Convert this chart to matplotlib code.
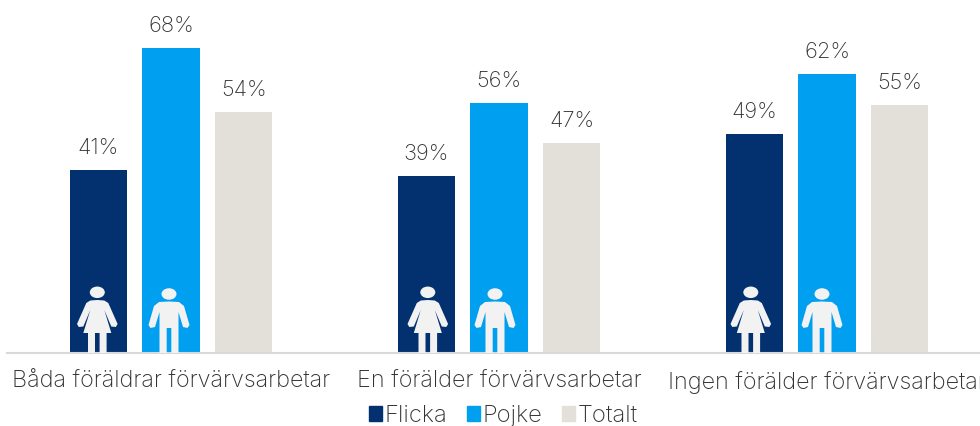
import matplotlib
matplotlib.use("Agg")
import matplotlib.pyplot as plt
import numpy as np
from matplotlib.patches import Ellipse, PathPatch, Patch
from matplotlib.path import Path
from matplotlib.transforms import Affine2D

plt.rcParams['font.family'] = ['Inter', 'DejaVu Sans']

categories = ["Båda föräldrar förvärvsarbetar", "En förälder förvärvsarbetar", "Ingen förälder förvärvsarbetar"]
# bar heights as measured, the labels round them to whole percents
flicka = [40.8, 39.4, 48.8]
pojke = [68, 55.7, 62.2]
totalt = [53.7, 46.8, 55.3]
series_names = ["Flicka", "Pojke", "Totalt"]
colors = ["#03316f", "#009ff0", "#e2e0d9"]

text_color = "#333333"
icon_color = "#f2f2f2"

# pixel scales of the reference, used for the axes limits and the icons
px_per_group = 328
px_per_pct = 4.485

# right half of each figure, in pixels: x from the middle of the bar, y above the baseline
woman_half = [(0, 53), (7, 52.5), (11, 50), (20.3, 29), (18.5, 26), (14, 26.5), (7, 43), (14, 20), (9.3, 20), (9.3, 0), (2.3, 0), (2.3, 20), (0, 20)]
man_half = [(0, 51.5), (10, 51), (15, 47), (20.5, 28), (18.5, 25), (14, 26), (9.5, 41), (9.5, -1), (2.3, -1), (2.3, 25), (0, 25)]
# the figures do not sit exactly in the middle of their bars (pixels)
woman_shift = [-1, 1.5, -3.5]
man_shift = [-2, -4, -5]


def draw_person(ax, x, half, head_y):
    # mirrors the half outline and puts the figure on the bar
    pts = [(-a, b) for a, b in half] + [(a, b) for a, b in reversed(half)]
    tr = Affine2D().scale(1 / px_per_group, 1 / px_per_pct).translate(x, 0) + ax.transData
    ax.add_patch(PathPatch(Path(pts + [pts[0]], closed=True), fc=icon_color, ec="none", transform=tr, zorder=4))
    ax.add_patch(Ellipse((0, head_y), 15, 11.5, fc=icon_color, ec="none", transform=tr, zorder=4))


fig = plt.figure(figsize=(9.8, 4.26), dpi=100)
ax = fig.add_axes([7 / 980, 73 / 426, 984 / 980, 336 / 426])

x = np.arange(len(categories))
width = 57.5 / px_per_group
step = 72.7 / px_per_group

for i, (vals, name) in enumerate(zip([flicka, pojke, totalt], series_names)):
    pos = x + (i - 1) * step
    ax.bar(pos, vals, width, color=colors[i], zorder=2)
    for p, v in zip(pos, vals):
        ax.text(p, v + 5.0, f"{v:.0f}%", ha="center", va="center", fontsize=15.8, color=text_color, fontweight="light", clip_on=False)

for i, c in enumerate(x):
    draw_person(ax, c - step + woman_shift[i] / px_per_group, woman_half, 60.7)
    draw_person(ax, c + man_shift[i] / px_per_group, man_half, 59)

ax.set_xlim(-0.5, 2.5)
ax.set_ylim(0, 336 / px_per_pct)
ax.set_yticks([])
ax.set_xticks(x)
ax.set_xticklabels(categories, fontsize=16.85, color=text_color, fontweight="light")
ax.tick_params(axis="x", length=0, pad=13)
for s in ["top", "left", "right"]:
    ax.spines[s].set_visible(False)
ax.spines["bottom"].set_color("#d9d9d9")
ax.spines["bottom"].set_linewidth(1.5)
ax.spines["bottom"].set_zorder(3)

handles = [Patch(color=c, label=n) for c, n in zip(colors, series_names)]
fig.legend(handles=handles, loc="center", bbox_to_anchor=(503.5 / 980, 1 - 416 / 426), ncol=3, frameon=False,
           prop={"size": 17.2, "weight": "light"}, labelcolor=text_color, handlelength=0.54, handleheight=0.54,
           handletextpad=0.12, columnspacing=0.82, borderpad=0)

fig.savefig("out.png", dpi=100)
